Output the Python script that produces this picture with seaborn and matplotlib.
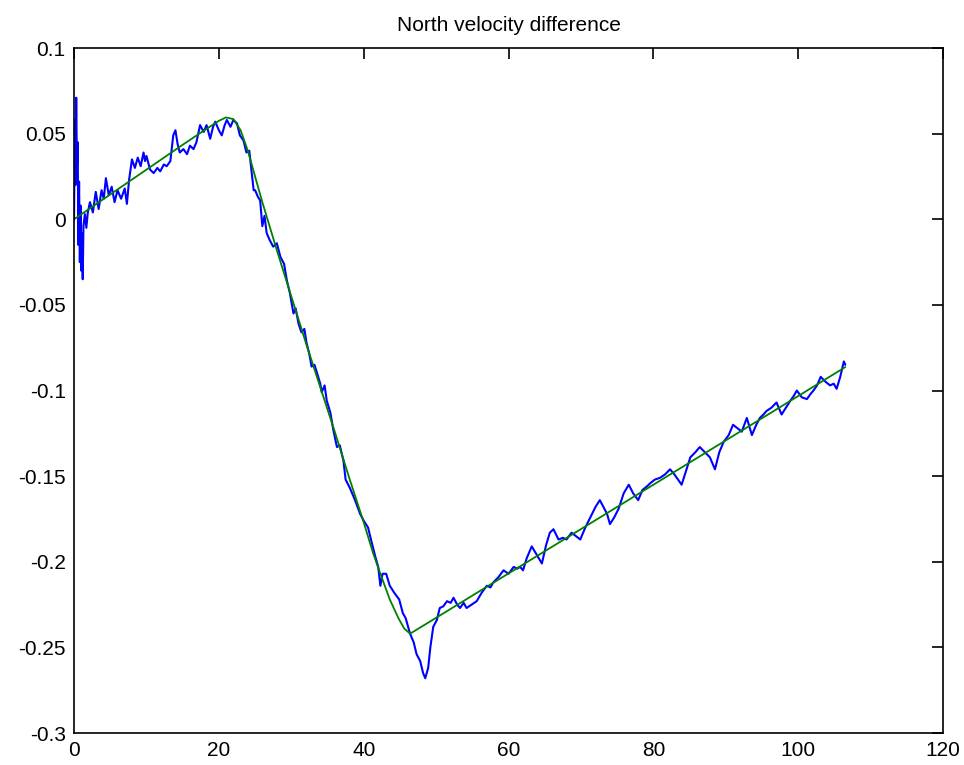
import matplotlib
matplotlib.use('Agg')
import matplotlib.pyplot as plt
import seaborn as sns

blue_x = [0.0, 0.1, 0.2, 0.3, 0.4, 0.5, 0.6, 0.7, 0.8, 0.9, 1.0, 1.1, 1.2, 1.3,
          1.5, 1.7, 1.9, 2.2, 2.6, 3.0, 3.4, 3.8, 4.1, 4.4, 4.8, 5.2, 5.6, 6.0,
          6.5, 7.0, 7.3, 7.6, 8.0, 8.4, 8.8, 9.2, 9.6, 9.8, 10.0, 10.5, 11.0,
          11.5, 11.9, 12.4, 12.8, 13.3, 13.7, 14.0, 14.3, 14.6, 15.1, 15.6,
          16.0, 16.5, 16.9, 17.4, 17.9, 18.3, 18.8, 19.2, 19.5, 20.0, 20.4,
          20.8, 21.1, 21.6, 22.0, 22.5, 22.9, 23.4, 23.8, 24.2, 24.8, 25.0,
          25.4, 25.7, 26.0, 26.3, 26.6, 27.0, 27.5, 28.0, 28.5, 29.0, 29.4,
          29.8, 30.3, 30.6, 31.0, 31.4, 31.8, 32.1, 32.5, 32.8, 33.2, 33.5,
          34.0, 34.2, 34.6, 34.9, 35.4, 35.8, 36.3, 36.7, 37.2, 37.5, 38.1,
          38.8, 39.5, 40.0, 40.6, 41.0, 41.6, 42.0, 42.3, 42.6, 43.1, 43.6,
          44.2, 44.9, 45.4, 45.8, 46.4, 46.9, 47.3, 47.8, 48.2, 48.5, 48.9,
          49.2, 49.6, 50.1, 50.5, 51.0, 51.5, 52.0, 52.4, 52.9, 53.3, 53.8,
          54.2, 54.9, 55.6, 56.3, 57.0, 57.5, 57.9, 58.6, 59.3, 60.0, 60.7,
          61.2, 61.6, 62.0, 62.5, 63.2, 63.9, 64.6, 65.2, 65.7, 66.2, 66.9,
          67.5, 68.0, 68.7, 69.3, 69.9, 70.6, 71.3, 72.0, 72.6, 73.1, 73.6,
          74.0, 74.6, 75.2, 75.9, 76.6, 77.2, 77.9, 78.5, 79.1, 79.6, 80.2,
          80.9, 81.6, 82.3, 82.9, 83.4, 83.9, 84.5, 85.1, 85.8, 86.4, 87.1,
          87.8, 88.5, 89.1, 89.7, 90.4, 91.0, 91.6, 92.2, 92.9, 93.6, 94.2,
          94.7, 95.2, 95.6, 96.3, 97.0, 97.7, 98.3, 98.9, 99.4, 99.8, 100.5,
          101.2, 101.7, 102.1, 102.6, 103.1, 103.8, 104.4, 104.9, 105.3,
          105.8, 106.3, 106.5]
blue_y = [0.0, 0.058, 0.020, 0.071, 0.030, 0.045, -0.015, 0.022, -0.025,
          0.008, -0.030, -0.008, -0.035, -0.004, 0.003, -0.005, 0.004, 0.010,
          0.004, 0.016, 0.006, 0.017, 0.012, 0.024, 0.014, 0.019, 0.010, 0.017,
          0.012, 0.018, 0.009, 0.023, 0.035, 0.030, 0.036, 0.031, 0.039, 0.034,
          0.037, 0.029, 0.027, 0.030, 0.028, 0.032, 0.031, 0.034, 0.049, 0.052,
          0.044, 0.039, 0.041, 0.038, 0.043, 0.041, 0.045, 0.055, 0.051, 0.055,
          0.047, 0.054, 0.057, 0.052, 0.049, 0.055, 0.058, 0.054, 0.058, 0.056,
          0.049, 0.046, 0.039, 0.040, 0.017, 0.017, 0.013, 0.011, -0.004,
          0.002, -0.008, -0.012, -0.016, -0.014, -0.022, -0.026, -0.036,
          -0.043, -0.055, -0.052, -0.061, -0.066, -0.064, -0.072, -0.079,
          -0.086, -0.085, -0.089, -0.096, -0.101, -0.097, -0.106, -0.113,
          -0.123, -0.133, -0.132, -0.141, -0.152, -0.157, -0.164, -0.172,
          -0.176, -0.180, -0.187, -0.197, -0.203, -0.214, -0.207, -0.207,
          -0.214, -0.218, -0.222, -0.230, -0.233, -0.242, -0.247, -0.254,
          -0.258, -0.265, -0.268, -0.262, -0.250, -0.238, -0.234, -0.227,
          -0.226, -0.223, -0.224, -0.221, -0.225, -0.227, -0.224, -0.227,
          -0.225, -0.223, -0.218, -0.214, -0.215, -0.212, -0.209, -0.205,
          -0.207, -0.203, -0.204, -0.203, -0.205, -0.198, -0.191, -0.196,
          -0.201, -0.190, -0.183, -0.181, -0.187, -0.186, -0.187, -0.183,
          -0.185, -0.187, -0.180, -0.174, -0.168, -0.164, -0.168, -0.172,
          -0.178, -0.174, -0.169, -0.160, -0.155, -0.160, -0.164, -0.158,
          -0.156, -0.154, -0.152, -0.151, -0.149, -0.146, -0.149, -0.152,
          -0.155, -0.147, -0.139, -0.136, -0.133, -0.136, -0.139, -0.146,
          -0.136, -0.130, -0.126, -0.120, -0.122, -0.124, -0.116, -0.126,
          -0.120, -0.116, -0.114, -0.112, -0.110, -0.107, -0.114, -0.110,
          -0.106, -0.103, -0.100, -0.104, -0.105, -0.102, -0.100, -0.097,
          -0.092, -0.095, -0.097, -0.096, -0.099, -0.092, -0.083, -0.085]

# green: smooth reference curve
green_x = [0.0, 5.0, 10.0, 15.0, 18.0, 20.0, 21.0, 22.0, 23.0, 24.0, 25.0,
           26.0, 28.0, 30.0, 32.0, 34.0, 36.0, 38.0, 40.0, 41.3, 42.3, 43.6,
           44.8, 45.6, 46.4, 50.0, 60.0, 70.0, 80.0, 90.0, 100.0, 106.5]
green_y = [0.0, 0.0145, 0.029, 0.0435, 0.052, 0.0575, 0.0595, 0.0585, 0.052,
           0.040, 0.025, 0.010, -0.018, -0.045, -0.072, -0.098, -0.124, -0.151,
           -0.177, -0.195, -0.207, -0.222, -0.233, -0.239, -0.242, -0.2327,
           -0.2068, -0.1809, -0.155, -0.1291, -0.1032, -0.0863]

sns.set_style('white')
plt.rcParams['font.family'] = ['Liberation Sans', 'DejaVu Sans']
plt.rcParams['text.color'] = 'black'

fig = plt.figure(figsize=(9.64, 7.65), dpi=100)
ax = fig.add_axes([0.0768, 0.0418, 0.9015, 0.8954])

sns.lineplot(x=blue_x, y=blue_y, ax=ax, color='#0000FF', linewidth=1.5,
             sort=False, estimator=None)
sns.lineplot(x=green_x, y=green_y, ax=ax, color='#008000', linewidth=1.3,
             sort=False, estimator=None)

ax.set_xlim(0, 120)
ax.set_ylim(-0.3, 0.1)
ax.set_xticks([0, 20, 40, 60, 80, 100, 120])
ax.set_yticks([-0.3, -0.25, -0.2, -0.15, -0.1, -0.05, 0, 0.05, 0.1])
ax.set_yticklabels(['-0.3', '-0.25', '-0.2', '-0.15', '-0.1', '-0.05', '0',
                    '0.05', '0.1'])
ax.tick_params(direction='in', length=8, width=1.2, colors='black',
               labelsize=15, top=True, right=True, pad=6)
for s in ax.spines.values():
    s.set_color('black')
    s.set_linewidth(1.2)
ax.set_title('North velocity difference', fontsize=15, pad=12, color='black')

fig.savefig('out.png', dpi=100)
